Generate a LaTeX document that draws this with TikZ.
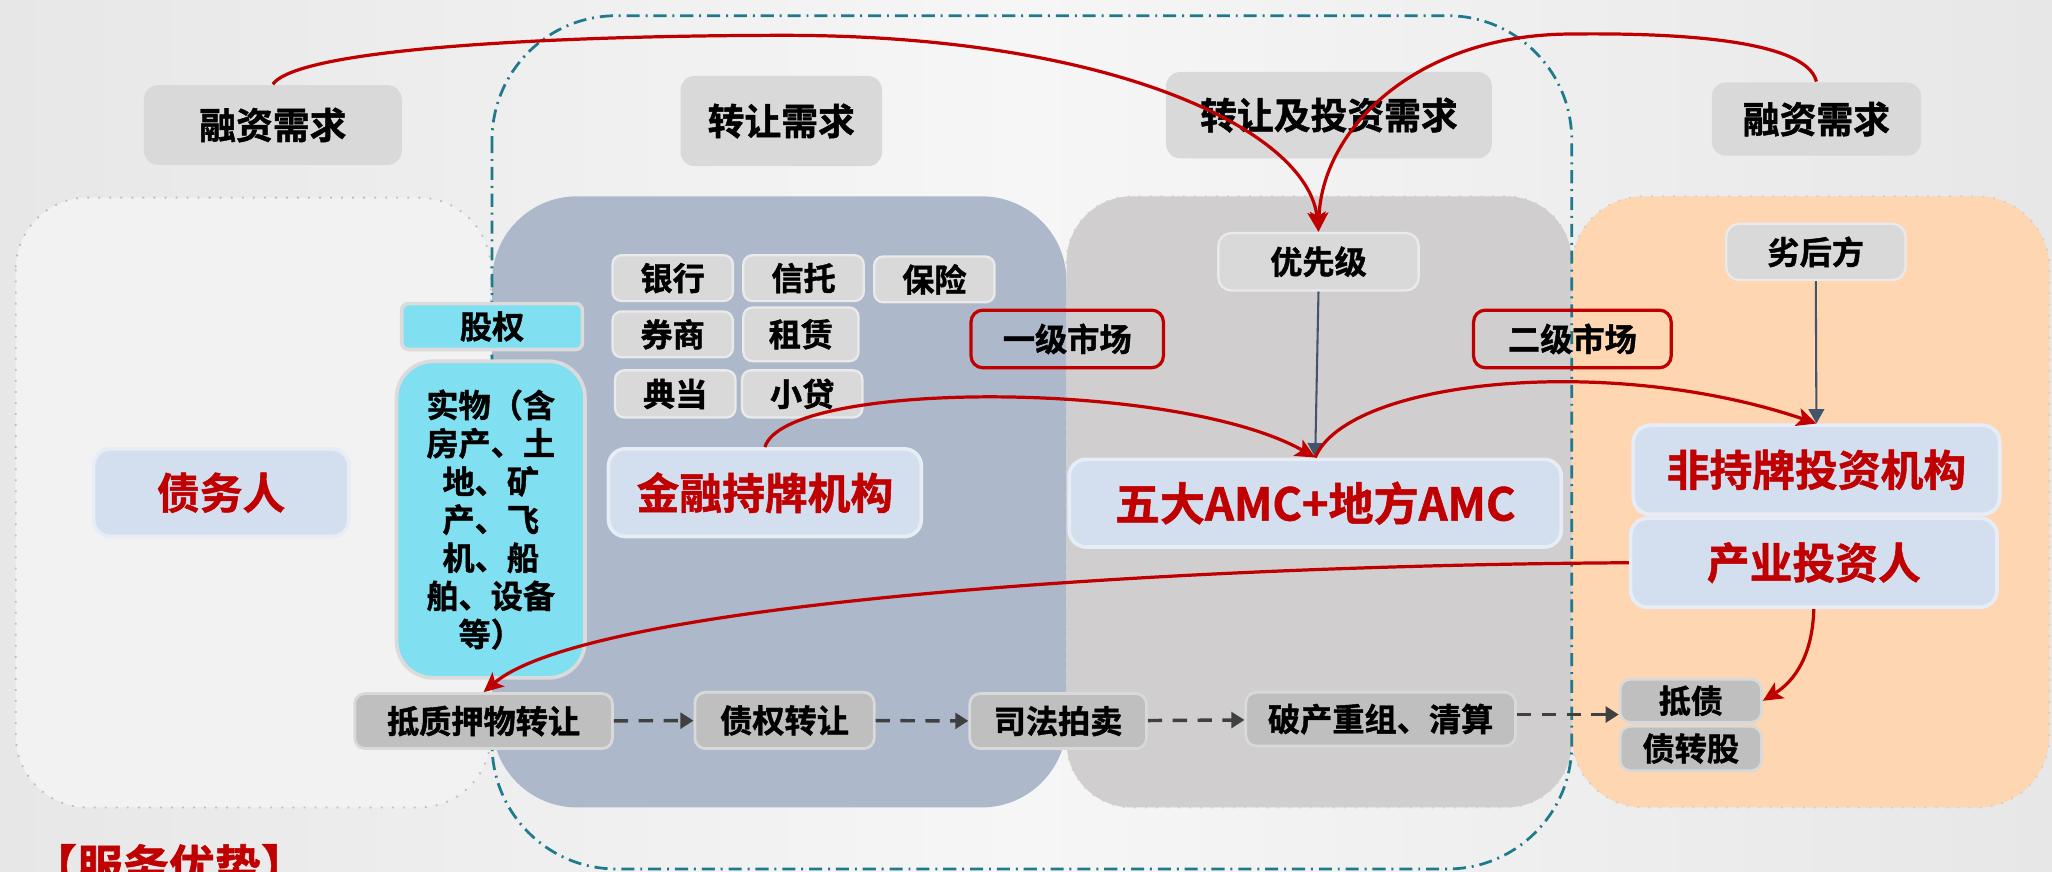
\documentclass[tikz,border=0pt]{standalone}
\usepackage{fontspec}
\setmainfont{Noto Sans CJK SC}[BoldFont={Noto Sans CJK SC Bold}, BoldFeatures={FakeBold=1.2}]
\usetikzlibrary{arrows.meta}
\definecolor{amcred}{RGB}{192,0,0}
\definecolor{slate}{RGB}{68,84,106}
\definecolor{outlineteal}{RGB}{31,122,140}
\definecolor{reqgray}{RGB}{217,217,217}
\definecolor{boxgray}{RGB}{191,191,191}
\definecolor{lightblue}{RGB}{211,222,239}
\definecolor{cyanbox}{RGB}{128,223,240}
\definecolor{panelblue}{RGB}{173,185,202}
\definecolor{panelgray}{RGB}{208,206,206}
\definecolor{panelorange}{RGB}{255,214,178}
\definecolor{panellight}{RGB}{242,242,242}
\definecolor{bgedge}{RGB}{231,231,231}
\definecolor{bgmid}{RGB}{246,246,246}

\tikzset{
    base/.style={inner sep=0pt, align=center, text=black},
    req/.style={base, fill=reqgray, rounded corners=1.1mm,
        font=\fontsize{8}{9.6}\selectfont\bfseries},
    small/.style={base, fill=reqgray, draw=reqgray!55!white, line width=0.5pt,
        rounded corners=0.7mm, font=\fontsize{7}{8.4}\selectfont\bfseries},
    keybox/.style={base, fill=lightblue, draw=lightblue!55!white, line width=0.8pt,
        rounded corners=1.3mm, text=amcred, font=\fontsize{9.3}{11}\selectfont\bfseries},
    asset/.style={base, fill=cyanbox, draw=white!86!black, line width=0.8pt,
        font=\fontsize{7}{8.3}\selectfont\bfseries},
    market/.style={base, draw=amcred, line width=0.7pt, rounded corners=0.9mm,
        font=\fontsize{7}{8.4}\selectfont\bfseries},
    stage/.style={base, fill=boxgray, draw=reqgray, line width=0.6pt,
        rounded corners=0.8mm, font=\fontsize{7}{8.4}\selectfont\bfseries},
    redline/.style={amcred, line width=0.7pt,
        -{Stealth[length=1.5mm,width=1.4mm,inset=0.35mm]}},
    slateline/.style={slate, line width=0.45pt, -{Triangle[length=1.1mm,width=1.2mm]}},
    dasharrow/.style={black!75, line width=0.75pt, dash pattern=on 1.1mm off 0.8mm,
        -{Triangle[length=1mm,width=1.2mm]}}
}

\begin{document}
\begin{tikzpicture}[x=0.1mm, y=-0.1mm]
        \useasboundingbox (0,0) rectangle (1568,666);
        \shade[left color=bgedge, right color=bgedge, middle color=bgmid] (0,0) rectangle (1568,666);

        \draw[fill=panellight, draw=black!25, dotted, line width=0.4pt, rounded corners=5.5mm]
            (12,151) rectangle (375,617);
        \fill[panelblue, rounded corners=6.5mm] (376,150) rectangle (815,617);
        \draw[fill=panelgray, draw=white!82!black, dotted, line width=0.4pt, rounded corners=5mm]
            (815,150) rectangle (1201,617);
        \draw[fill=panelorange, draw=white!82!black, dotted, line width=0.4pt, rounded corners=5.5mm]
            (1201,150) rectangle (1566,617);

        \draw[outlineteal, line width=0.6pt, rounded corners=9.5mm,
            dash pattern=on 1mm off 0.45mm on 0.15mm off 0.45mm] (376,12) rectangle (1201,664);

        \node[req, minimum width=19.7mm, minimum height=6.1mm] (rzl) at (208.5,95.5) {融资需求};
        \node[req, minimum width=15.4mm, minimum height=6.9mm] (zr) at (597,92.5) {转让需求};
        \node[req, minimum width=24.9mm, minimum height=6.6mm] (zrtz) at (1015.5,88) {转让及投资需求};
        \node[req, minimum width=16mm, minimum height=5.6mm] (rzr) at (1388,91) {融资需求};

        \foreach \t/\x/\y/\w/\h [count=\i] in {银行/514/212.5/9.2/3.5, 信托/614/212.5/9.2/3.5,
            保险/714/213.5/9.2/3.5, 券商/514/255.5/9.2/3.5, 租赁/612/255.5/8.8/4.1,
            典当/516/301/9.2/3.6, 小贷/613/301/9.2/3.6}
        \node[small, minimum width=\w mm, minimum height=\h mm] (ins\i) at (\x,\y) {\t};

        \node[asset, rounded corners=0.5mm, minimum width=13.8mm, minimum height=3.5mm]
            (gq) at (376,249.5) {股权};
        \node[asset, rounded corners=2.8mm, minimum width=14.4mm, minimum height=24.2mm]
            (sw) at (375,397) {实物（含\\房产、土\\地、矿\\产、飞\\机、船\\舶、设备\\等）};

        \node[keybox, minimum width=19.5mm, minimum height=6.7mm] (zwr) at (169,376.5) {债务人};
        \node[keybox, minimum width=23.9mm, minimum height=6.7mm] (jr) at (584.5,376.5) {金融持牌机构};
        \node[keybox, minimum width=37.6mm, minimum height=6.7mm,
            font=\fontsize{9.8}{11}\selectfont\bfseries] (amc) at (1005,384.5) {五大AMC+地方AMC};
        \node[keybox, minimum width=28mm, minimum height=6.8mm] (fcp) at (1388,359) {非持牌投资机构};
        \node[keybox, minimum width=28mm, minimum height=6.8mm] (cy) at (1386,430) {产业投资人};

        \node[small, rounded corners=1mm, minimum width=15.3mm, minimum height=4.4mm]
            (yxj) at (1007.5,200) {优先级};
        \node[small, rounded corners=1mm, minimum width=13.7mm, minimum height=4.3mm]
            (lhf) at (1387.5,192.5) {劣后方};
        \node[market, minimum width=14.7mm, minimum height=4.4mm] (yj) at (815.5,259) {一级市场};
        \node[market, minimum width=15.1mm, minimum height=4.4mm] (ej) at (1201.5,259) {二级市场};

        \node[stage, minimum width=19.7mm, minimum height=4.2mm] (dzy) at (369.5,551) {抵质押物转让};
        \node[stage, minimum width=13.7mm, minimum height=4.3mm] (zq) at (599.5,550.5) {债权转让};
        \node[stage, minimum width=13.5mm, minimum height=4.2mm] (sf) at (808.5,551) {司法拍卖};
        \node[stage, minimum width=20.6mm, minimum height=4.1mm] (pc) at (1055,549.5) {破产重组、清算};
        \node[stage, minimum width=10.8mm, minimum height=3.3mm] (dz) at (1292,535.5) {抵债};
        \node[stage, minimum width=10.8mm, minimum height=3.4mm] (zzg) at (1292,572) {债转股};

        \node[anchor=base west, inner sep=0pt, text=amcred,
            font=\fontsize{10}{12}\selectfont\bfseries] (fw) at (23,675) {【服务优势】};

        \draw[dasharrow] (dzy) -- (zq);
        \draw[dasharrow] (zq) -- (sf);
        \draw[dasharrow] (sf) -- (pc);
        \coordinate (pcout) at ([yshift=0.35mm]pc.east);
        \draw[dasharrow] (pcout) -- (pcout -| dz.west);

        \draw[slateline] (yxj.south) -- (amc.north);
        \draw[slateline] (lhf.south) -- (fcp.north);

        \draw[redline] (rzl.north) .. controls (230,35) and (450,27) .. (600,27)
            .. controls (850,27) and (1000,100) .. (yxj.north);
        \draw[redline] (rzr.north) .. controls (1380,30) and (1280,25) .. (1199,26)
            .. controls (1080,27) and (1010,100) .. (yxj.north);
        \draw[redline] (jr.north) .. controls (600,290) and (900,290) .. (amc.north);
        \draw[redline] (amc.north) .. controls (1030,290) and (1230,270) .. (fcp.north);
        \draw[redline] (cy.west) .. controls (900,432) and (450,460) .. (dzy.north);
        \draw[redline] (cy.south) .. controls (1385,500) and (1372,520) .. (dz.east);

    \end{tikzpicture}
\end{document}
